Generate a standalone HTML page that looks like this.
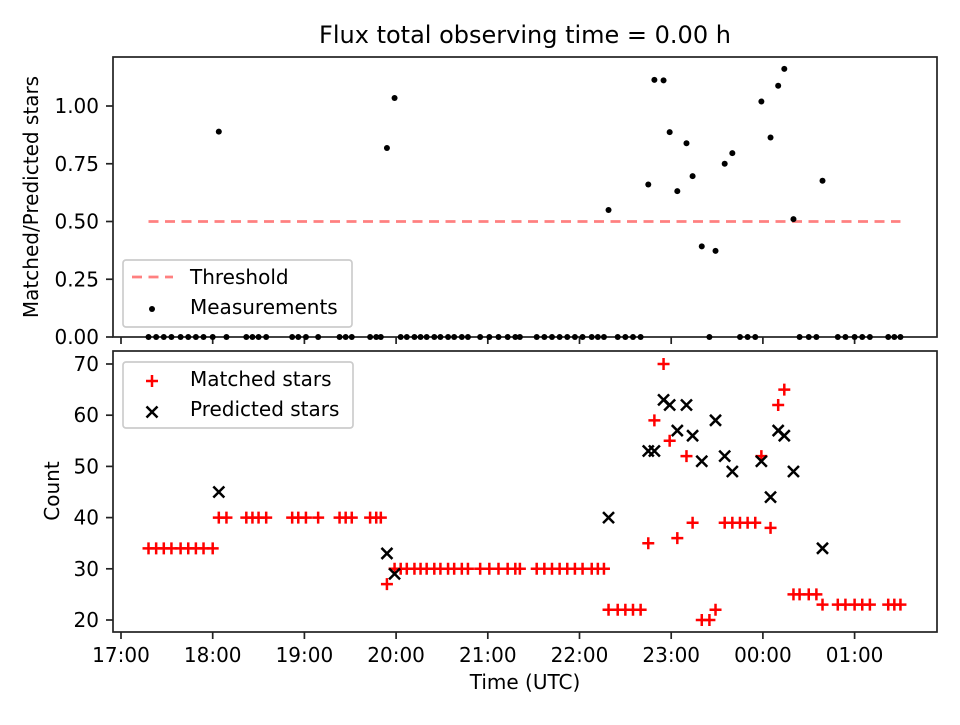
<!DOCTYPE html>
<html><head><meta charset="utf-8"><style>
body{margin:0;background:#fff}
svg text{font-family:"DejaVu Sans","Liberation Sans",sans-serif;fill:#000}
</style></head><body>
<svg id="c" width="960" height="720" xmlns="http://www.w3.org/2000/svg"></svg>
<script>
// minutes after 17:00
const times=[18,23,28,33,39,44,49,54,60,64,69,82,86,90,95,112,116,121,129,143,147,151,163,167,170,174,179,183,187,192,196,200,205,209,214,218,223,227,235,241,247,253,258,261,272,277,282,287,292,297,302,308,312,316,319,325,330,335,340,345,349,355,359,364,370,374,380,385,389,395,400,405,410,415,419,425,430,434,440,444,450,455,459,469,474,480,485,490,502,506,510];
const matched=[34,34,34,34,34,34,34,34,34,40,40,40,40,40,40,40,40,40,40,40,40,40,40,40,40,27,30,30,30,30,30,30,30,30,30,30,30,30,30,30,30,30,30,30,30,30,30,30,30,30,30,30,30,30,22,22,22,22,22,35,59,70,55,36,52,39,20,20,22,39,39,39,39,39,52,38,62,65,25,25,25,25,23,23,23,23,23,23,23,23,23];
const predicted=[null,null,null,null,null,null,null,null,null,45,null,null,null,null,null,null,null,null,null,null,null,null,null,null,null,33,29,null,null,null,null,null,null,null,null,null,null,null,null,null,null,null,null,null,null,null,null,null,null,null,null,null,null,null,40,null,null,null,null,53,53,63,62,57,62,56,51,null,59,52,49,null,null,null,51,44,57,56,49,null,null,null,34,null,null,null,null,null,null,null,null];
const xTickLabels=["17:00","18:00","19:00","20:00","21:00","22:00","23:00","00:00","01:00"];
const topTicks=[0,0.25,0.5,0.75,1.0];
const botTicks=[20,30,40,50,60,70];
const threshold=0.5;

const svg=document.getElementById('c');const NS='http://www.w3.org/2000/svg';
function mk(t,a,p,name){const e=document.createElementNS(NS,t);for(const k in a)e.setAttribute(k,a[k]);


(p||svg).appendChild(e);return e;}
const X=m=>121+m*91.7/60;
const Yt=v=>337-v*231;
const Yb=v=>620-(v-20)*5.12;
const L=113,R=937,FS=20;
mk('text',{x:525,y:43,'font-size':24,'text-anchor':'middle'},null,'chart-title').textContent='Flux total observing time = 0.00 h';
mk('rect',{x:L,y:57,width:R-L,height:280,fill:'none',stroke:'#222','stroke-width':1.7},null,'top-axes-frame');
mk('rect',{x:L,y:351,width:R-L,height:281,fill:'none',stroke:'#222','stroke-width':1.7},null,'bottom-axes-frame');
xTickLabels.forEach((l,i)=>{const x=X(i*60);
mk('line',{x1:x,x2:x,y1:337,y2:344,stroke:'#222','stroke-width':1.7},null,'top-x-tick');
mk('line',{x1:x,x2:x,y1:632,y2:639,stroke:'#222','stroke-width':1.7},null,'bottom-x-tick');
mk('text',{x:x,y:662,'font-size':FS,'text-anchor':'middle'},null,'x-tick-label').textContent=l;});
mk('text',{x:525,y:689,'font-size':FS,'text-anchor':'middle'},null,'x-axis-title').textContent='Time (UTC)';
topTicks.forEach(v=>{const y=Yt(v);mk('line',{x1:L-7,x2:L,y1:y,y2:y,stroke:'#222','stroke-width':1.7},null,'top-y-tick');
mk('text',{x:99,y:y+7,'font-size':FS,'text-anchor':'end'},null,'top-y-tick-label').textContent=v.toFixed(2);});
botTicks.forEach(v=>{const y=Yb(v);mk('line',{x1:L-7,x2:L,y1:y,y2:y,stroke:'#222','stroke-width':1.7},null,'bottom-y-tick');
mk('text',{x:99,y:y+7,'font-size':FS,'text-anchor':'end'},null,'bottom-y-tick-label').textContent=v;});
mk('text',{x:0,y:0,'font-size':FS,'text-anchor':'middle',transform:'translate(38,197) rotate(-90)'},null,'top-y-axis-title').textContent='Matched/Predicted stars';
mk('text',{x:0,y:0,'font-size':FS,'text-anchor':'middle',transform:'translate(59,491) rotate(-90)'},null,'bottom-y-axis-title').textContent='Count';
mk('line',{x1:X(times[0]),x2:X(times[times.length-1]),y1:Yt(threshold),y2:Yt(threshold),stroke:'#ff8080','stroke-width':2.8,'stroke-dasharray':'10,6.5'},null,'threshold-line');
times.forEach((t,i)=>{const r=predicted[i]?matched[i]/predicted[i]:0;
mk('circle',{cx:X(t),cy:Yt(r),r:3,fill:'#000'},null,'measurement-point');});
times.forEach((t,i)=>{const x=X(t),y=Yb(matched[i]);
mk('path',{d:`M${x-6} ${y}H${x+6}M${x} ${y-6}V${y+6}`,stroke:'#f00','stroke-width':2.5},null,'matched-marker');});
times.forEach((t,i)=>{if(predicted[i]==null)return;const x=X(t),y=Yb(predicted[i]);
mk('path',{d:`M${x-5.5} ${y-5.5}L${x+5.5} ${y+5.5}M${x-5.5} ${y+5.5}L${x+5.5} ${y-5.5}`,stroke:'#000','stroke-width':2.5},null,'predicted-marker');});
let g=mk('g',{},null,'top-legend');
mk('rect',{x:123,y:260,width:229,height:67,rx:3,fill:'#fff','fill-opacity':0.8,stroke:'#ccc','stroke-width':1.7},g,'top-legend-box');
mk('line',{x1:132,x2:173,y1:277,y2:277,stroke:'#ff8080','stroke-width':2.8,'stroke-dasharray':'10,6.5'},g,'legend-threshold-swatch');
mk('text',{x:190,y:284,'font-size':FS},g,'legend-threshold-label').textContent='Threshold';
mk('circle',{cx:152,cy:309,r:3,fill:'#000'},g,'legend-measurement-swatch');
mk('text',{x:190,y:314,'font-size':FS},g,'legend-measurement-label').textContent='Measurements';
g=mk('g',{},null,'bottom-legend');
mk('rect',{x:123,y:362,width:230,height:66,rx:3,fill:'#fff','fill-opacity':0.8,stroke:'#ccc','stroke-width':1.7},g,'bottom-legend-box');
mk('path',{d:'M146 381H158M152 375V387',stroke:'#f00','stroke-width':2.5},g,'legend-matched-swatch');
mk('text',{x:190,y:386,'font-size':FS},g,'legend-matched-label').textContent='Matched stars';
mk('path',{d:'M146.5 406.5L157.5 417.5M146.5 417.5L157.5 406.5',stroke:'#000','stroke-width':2.5},g,'legend-predicted-swatch');
mk('text',{x:190,y:416,'font-size':FS},g,'legend-predicted-label').textContent='Predicted stars';
</script>
</body></html>
